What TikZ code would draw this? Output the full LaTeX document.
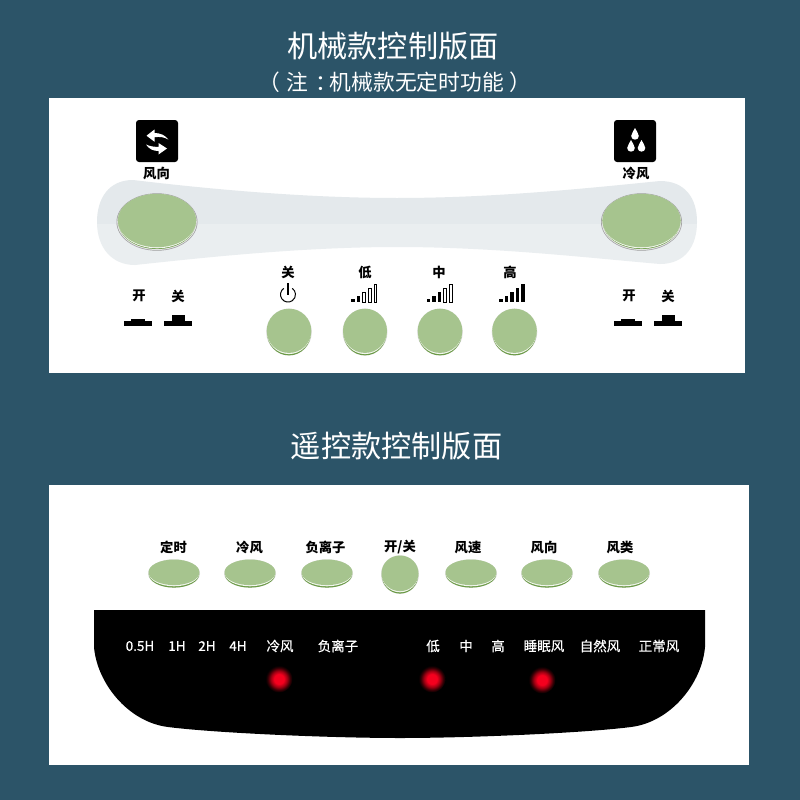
\documentclass[tikz,border=0pt]{standalone}
\usepackage{fontspec}
\setmainfont{Noto Sans CJK SC}
\newfontfamily\medcjk[FakeBold=0.5]{Noto Sans CJK SC}
\definecolor{bgc}{HTML}{2C5468}
\definecolor{btn}{HTML}{A6C48E}
\definecolor{btnd}{HTML}{6A9A45}
\definecolor{slideA}{HTML}{E4E9EC}
\definecolor{slideB}{HTML}{EAEEF0}
\definecolor{ledA}{HTML}{F5001E}
\definecolor{ledB}{HTML}{A00012}
\definecolor{ledC}{HTML}{300004}
\definecolor{ledD}{HTML}{000000}
\pgfdeclareradialshading{ledglow}{\pgfpoint{0bp}{0bp}}{
  color(0bp)=(ledA);
  color(9bp)=(ledA);
  color(15bp)=(ledB);
  color(21bp)=(ledC);
  color(25bp)=(ledD);
  color(50bp)=(ledD)}
\tikzset{
  title/.style={text=white,font=\fontsize{30.2}{30}\selectfont,inner sep=0pt},
  subtitle/.style={text=white,font=\fontsize{21.75}{22}\selectfont,inner sep=0pt},
  lab/.style={text=black,font=\fontsize{13.3}{14}\bfseries\selectfont,inner sep=0pt},
  dark/.style={text=white,font=\fontsize{13.5}{14}\medcjk\selectfont,inner sep=0pt},
  icon/.style={fill=black,rounded corners=3pt},
}
% small button: cx cy rx ry
\newcommand{\gbtn}[4]{%
  \fill[black!12] (#1,#2) ellipse [x radius=#3+0.5pt,y radius=#4+0.5pt];
  \fill[btnd] (#1,#2+0.6) ellipse [x radius=#3-0.3pt,y radius=#4-0.2pt];
  \fill[white!85!btn] (#1,#2-0.5) ellipse [x radius=#3-0.1pt,y radius=#4-0.4pt];
  \fill[btn] (#1,#2-1.2) ellipse [x radius=#3,y radius=#4-0.9pt];
}
% large button with grey ring
\newcommand{\gbig}[4]{%
  \fill[black!38] (#1,#2) ellipse [x radius=#3,y radius=#4];
  \fill[white!90!black] (#1,#2) ellipse [x radius=#3-0.7pt,y radius=#4-0.7pt];
  \fill[btnd] (#1,#2-0.1) ellipse [x radius=#3-1.7pt,y radius=#4-1.6pt];
  \fill[white!85!btn] (#1,#2-0.8) ellipse [x radius=#3-1.4pt,y radius=#4-1.6pt];
  \fill[btn] (#1,#2-1.5) ellipse [x radius=#3-1.2pt,y radius=#4-2pt];
}
\newcommand{\offsw}[1]{%
  \fill[black] (#1,321) rectangle (#1+28.5,326);
  \fill[black] (#1+7.5,319) rectangle (#1+21.5,322);
}
\newcommand{\onsw}[1]{%
  \fill[black] (#1,321) rectangle (#1+28.5,326);
  \fill[black] (#1+8,315) rectangle (#1+21,322);
}
% bars: x0, number of filled
\newcommand{\sigbars}[2]{%
  \foreach \i/\h in {1/3.5,2/6.5,3/10,4/14,5/18}{%
    \pgfmathsetmacro{\xa}{#1+(\i-1)*5.6}
    \ifnum\i>#2
      \draw[black,line width=.6pt,fill=white] (\xa+.4,302) rectangle (\xa+3.2,302-\h);
    \else
      \fill[black] (\xa,302) rectangle (\xa+3.6,302-\h);
    \fi
  }%
}
\begin{document}
\begin{tikzpicture}[x=1pt,y=-1pt]
\useasboundingbox (0,0) rectangle (800,800);
\fill[bgc] (0,0) rectangle (800,800);
\fill[white] (49,98) rectangle (745,373);
\fill[white] (49,485) rectangle (749,765);

\node[title] (t1) at (393,46) {机械款控制版面};
\node[subtitle] (t2) at (394.9,82) {（\kern7pt 注\kern6.75pt ：\kern-7.25pt 机械款无定时功能\kern6pt ）};
\node[title] (t3) at (396.5,446) {遥控款控制版面};

% slider
\begin{scope}
\path[clip] (133,180) .. controls (109,180) and (97,198) .. (97,222)
  .. controls (97,248) and (112,265) .. (135,265)
  .. controls (200,258) and (300,247) .. (397,247)
  .. controls (495,247) and (590,258) .. (660,264)
  .. controls (685,264) and (697,246) .. (697,222)
  .. controls (697,198) and (685,181) .. (660,181)
  .. controls (590,188) and (495,198) .. (397,198)
  .. controls (300,198) and (200,188) .. (133,180) -- cycle;
\fill[slideA] (90,170) rectangle (705,223.5);
\fill[slideB] (90,223.5) rectangle (705,275);
\end{scope}
\gbig{157}{222}{40.5pt}{28.7pt}
\gbig{641.5}{222}{40.5pt}{28.7pt}

% icons
\fill[icon] (136,120) rectangle (178,162);
\fill[white] (146.5,135.7) -- (154.5,129.5) -- (154.5,133)
  .. controls (160,133) and (165,135) .. (168.3,139.5)
  .. controls (164,137) and (160,136.6) .. (154.5,137.2) -- (154.5,141.7) -- cycle;
\fill[white] (167,148.5) -- (158.5,143) -- (158.5,146.8)
  .. controls (154,146.9) and (150,146.4) .. (146,144.5)
  .. controls (149,149) and (153,151) .. (158.5,151) -- (158.5,154.5) -- cycle;
\fill[icon] (614,120) rectangle (656,162);
\foreach \dx/\dy in {635/135,631/147,641.5/147}{
  \fill[white] (\dx,\dy-7) .. controls (\dx+1.2,\dy-3.5) and (\dx+3.8,\dy-2) .. (\dx+3.8,\dy+1)
    .. controls (\dx+3.8,\dy+3.4) and (\dx+2,\dy+4.6) .. (\dx,\dy+4.6)
    .. controls (\dx-2,\dy+4.6) and (\dx-3.8,\dy+3.4) .. (\dx-3.8,\dy+1)
    .. controls (\dx-3.8,\dy-2) and (\dx-1.2,\dy-3.5) .. (\dx,\dy-7) -- cycle;
}

\node[lab] (l1) at (156.5,173) {风向};
\node[lab] (l2) at (636,173) {冷风};
\node[lab] (l3) at (288,272) {关};
\node[lab] (l4) at (365,272) {低};
\node[lab] (l5) at (439,272) {中};
\node[lab] (l6) at (510,272) {高};
\node[lab] (l7) at (139,296) {开};
\node[lab] (l8) at (178,296) {关};
\node[lab] (l9) at (629,296) {开};
\node[lab] (l10) at (668,296) {关};

\offsw{123.5}
\onsw{163.5}
\offsw{613.5}
\onsw{653.5}

% power icon
\draw[black,line width=1pt] (283.7,288.4) arc [start angle=125,end angle=415,radius=7.5pt];
\draw[black,line width=1.6pt] (288,283) -- (288,295);

\sigbars{351}{2}
\sigbars{426.5}{3}
\sigbars{499}{5}

\gbtn{289}{332}{22.3pt}{23pt}
\gbtn{365}{332}{22pt}{23pt}
\gbtn{440}{332}{22.3pt}{23pt}
\gbtn{514.5}{332}{22.3pt}{23pt}

% lower panel buttons
\foreach \xx/\lbl/\nm in {173.5/定时/a,249.5/冷风/b,325.5/负离子/c,400/{开/关}/d,468/风速/e,544/风向/f,620/风类/g}{
  \node[lab] (b\nm) at (\xx,547) {\lbl};
}
\foreach \xx in {174,250,327,471,547,624}{\gbtn{\xx}{573.5}{25.5pt}{13.7pt}}
\gbtn{400}{574.5}{18.5pt}{18.7pt}

% black panel
\fill[black] (94,610) -- (705,610) -- (705,647)
  .. controls (702,683) and (671,722) .. (631,727)
  .. controls (584,733) and (470,738) .. (400,738)
  .. controls (330,738) and (215,733) .. (168,727)
  .. controls (128,722) and (97,683) .. (94,647) -- cycle;

\foreach \xx/\lbl/\nm in {140/0.5H/a,177/1H/b,207/2H/c,238/4H/d,280/冷风/e,338/负离子/f,433/低/g,466/中/h,498/高/i,544/睡眠风/j,600/自然风/k,659/正常风/l}{
  \node[dark] (d\nm) at (\xx,646) {\lbl};
}
\foreach \xx/\yy in {279/679,432/679,542/680}{
  \shade[shading=ledglow] (\xx,\yy) circle [radius=13.5pt];
}
\end{tikzpicture}
\end{document}
